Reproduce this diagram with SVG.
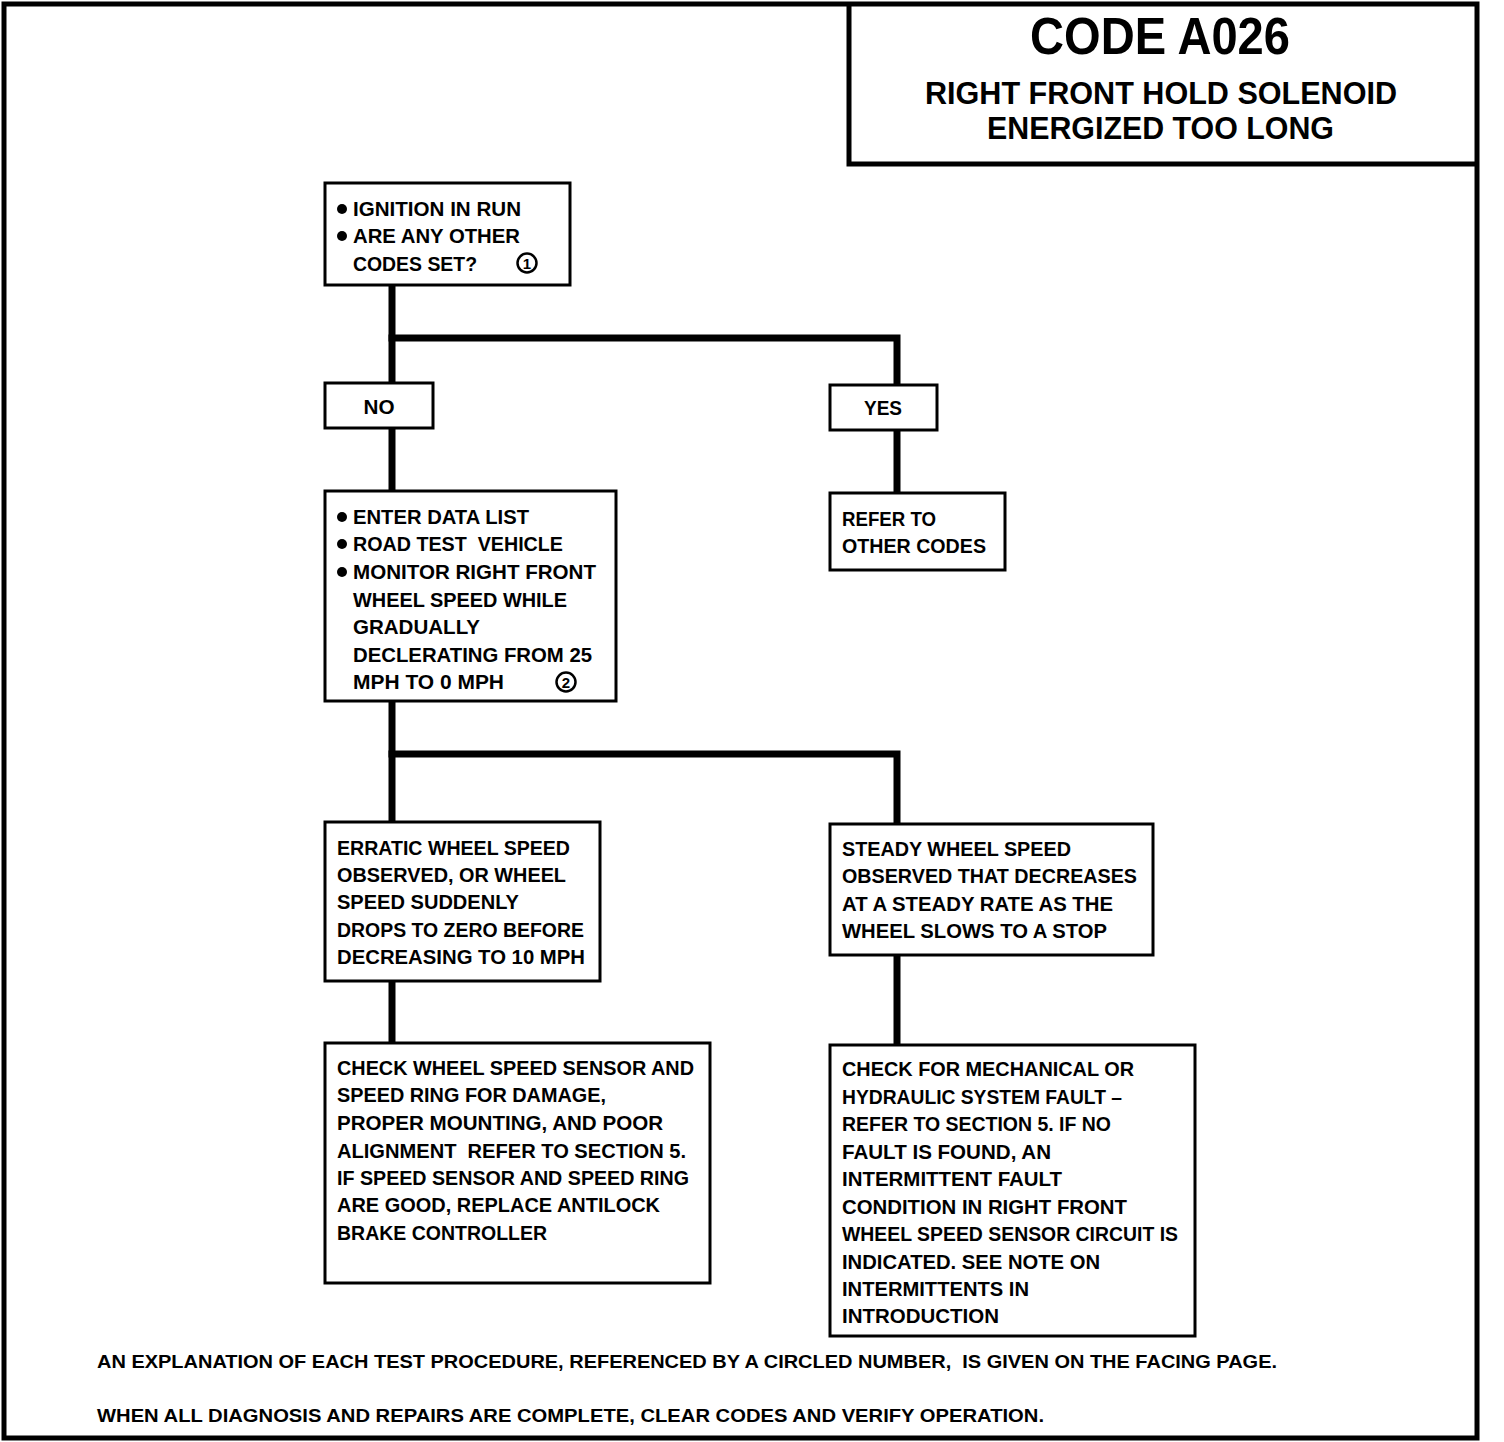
<svg xmlns="http://www.w3.org/2000/svg" width="1504" height="1442" viewBox="0 0 1504 1442">
<style>
.t{font-family:"Liberation Sans",Arial,sans-serif;font-weight:bold;font-size:20px;fill:#000;white-space:pre}
.b{fill:#fff;stroke:#000;stroke-width:3}
.c{fill:none;stroke:#000;stroke-width:7;stroke-linecap:square}
.h{font-family:"Liberation Sans",Arial,sans-serif;font-weight:bold;fill:#000;white-space:pre}
.dot{fill:#000}
.cn{fill:none;stroke:#000;stroke-width:2.5}
.n{font-family:"Liberation Sans",Arial,sans-serif;font-weight:bold;font-size:15px;fill:#000;text-anchor:middle}
</style>
<rect width="1504" height="1442" fill="#fff"/>
<rect x="4" y="4" width="1473" height="1434" fill="none" stroke="#000" stroke-width="5"/>
<g id="title">
<polyline points="849,4 849,164 1477,164" fill="none" stroke="#000" stroke-width="5"/>
<text class="h" x="1030" y="54" font-size="52" textLength="260" lengthAdjust="spacingAndGlyphs">CODE A026</text>
<text class="h" x="925" y="104" font-size="31" textLength="472" lengthAdjust="spacingAndGlyphs">RIGHT FRONT HOLD SOLENOID</text>
<text class="h" x="987" y="139" font-size="31" textLength="347" lengthAdjust="spacingAndGlyphs">ENERGIZED TOO LONG</text>
</g>
<g id="connectors">
<polyline class="c" points="392,287 392,381"/>
<polyline class="c" points="392,338 897,338 897,383"/>
<polyline class="c" points="392,430 392,489"/>
<polyline class="c" points="897,432 897,491"/>
<polyline class="c" points="392,703 392,820"/>
<polyline class="c" points="392,754 897,754 897,822"/>
<polyline class="c" points="392,983 392,1041"/>
<polyline class="c" points="897,957 897,1043"/>
</g>
<g id="n1">
<rect class="b" x="325" y="183" width="245" height="102"/>
<circle class="dot" cx="342" cy="209" r="5"/>
<text class="t" x="353" y="216" textLength="168" lengthAdjust="spacingAndGlyphs">IGNITION IN RUN</text>
<circle class="dot" cx="342" cy="236" r="5"/>
<text class="t" x="353" y="243" textLength="167" lengthAdjust="spacingAndGlyphs">ARE ANY OTHER</text>
<text class="t" x="353" y="271" textLength="124" lengthAdjust="spacingAndGlyphs">CODES SET?</text>
<circle class="cn" cx="527" cy="263" r="9.5"/>
<text class="n" x="527" y="268.5">1</text>
</g>
<g id="no">
<rect class="b" x="325" y="383" width="108" height="45"/>
<text class="t" x="379" y="414" text-anchor="middle" textLength="31" lengthAdjust="spacingAndGlyphs">NO</text>
</g>
<g id="yes">
<rect class="b" x="830" y="385" width="107" height="45"/>
<text class="t" x="883" y="415" text-anchor="middle" textLength="38" lengthAdjust="spacingAndGlyphs">YES</text>
</g>
<g id="n2">
<rect class="b" x="325" y="491" width="291" height="210"/>
<circle class="dot" cx="342" cy="517" r="5"/>
<text class="t" x="353" y="524" textLength="176" lengthAdjust="spacingAndGlyphs">ENTER DATA LIST</text>
<circle class="dot" cx="342" cy="544" r="5"/>
<text class="t" x="353" y="551" textLength="210" lengthAdjust="spacingAndGlyphs">ROAD TEST  VEHICLE</text>
<circle class="dot" cx="342" cy="572" r="5"/>
<text class="t" x="353" y="579" textLength="243" lengthAdjust="spacingAndGlyphs">MONITOR RIGHT FRONT</text>
<text class="t" x="353" y="607" textLength="214" lengthAdjust="spacingAndGlyphs">WHEEL SPEED WHILE</text>
<text class="t" x="353" y="634" textLength="127" lengthAdjust="spacingAndGlyphs">GRADUALLY</text>
<text class="t" x="353" y="662" textLength="239" lengthAdjust="spacingAndGlyphs">DECLERATING FROM 25</text>
<text class="t" x="353" y="689" textLength="151" lengthAdjust="spacingAndGlyphs">MPH TO 0 MPH</text>
<circle class="cn" cx="566" cy="682" r="9.5"/>
<text class="n" x="566" y="687.5">2</text>
</g>
<g id="refer">
<rect class="b" x="830" y="493" width="175" height="77"/>
<text class="t" x="842" y="526" textLength="94" lengthAdjust="spacingAndGlyphs">REFER TO</text>
<text class="t" x="842" y="553" textLength="144" lengthAdjust="spacingAndGlyphs">OTHER CODES</text>
</g>
<g id="erratic">
<rect class="b" x="325" y="822" width="275" height="159"/>
<text class="t" x="337" y="855" textLength="233" lengthAdjust="spacingAndGlyphs">ERRATIC WHEEL SPEED</text>
<text class="t" x="337" y="882" textLength="229" lengthAdjust="spacingAndGlyphs">OBSERVED, OR WHEEL</text>
<text class="t" x="337" y="909" textLength="182" lengthAdjust="spacingAndGlyphs">SPEED SUDDENLY</text>
<text class="t" x="337" y="937" textLength="247" lengthAdjust="spacingAndGlyphs">DROPS TO ZERO BEFORE</text>
<text class="t" x="337" y="964" textLength="248" lengthAdjust="spacingAndGlyphs">DECREASING TO 10 MPH</text>
</g>
<g id="steady">
<rect class="b" x="830" y="824" width="323" height="131"/>
<text class="t" x="842" y="856" textLength="229" lengthAdjust="spacingAndGlyphs">STEADY WHEEL SPEED</text>
<text class="t" x="842" y="883" textLength="295" lengthAdjust="spacingAndGlyphs">OBSERVED THAT DECREASES</text>
<text class="t" x="842" y="911" textLength="271" lengthAdjust="spacingAndGlyphs">AT A STEADY RATE AS THE</text>
<text class="t" x="842" y="938" textLength="265" lengthAdjust="spacingAndGlyphs">WHEEL SLOWS TO A STOP</text>
</g>
<g id="checkSensor">
<rect class="b" x="325" y="1043" width="385" height="240"/>
<text class="t" x="337" y="1075" textLength="357" lengthAdjust="spacingAndGlyphs">CHECK WHEEL SPEED SENSOR AND</text>
<text class="t" x="337" y="1102" textLength="269" lengthAdjust="spacingAndGlyphs">SPEED RING FOR DAMAGE,</text>
<text class="t" x="337" y="1130" textLength="326" lengthAdjust="spacingAndGlyphs">PROPER MOUNTING, AND POOR</text>
<text class="t" x="337" y="1158" textLength="349" lengthAdjust="spacingAndGlyphs">ALIGNMENT  REFER TO SECTION 5.</text>
<text class="t" x="337" y="1185" textLength="352" lengthAdjust="spacingAndGlyphs">IF SPEED SENSOR AND SPEED RING</text>
<text class="t" x="337" y="1212" textLength="323" lengthAdjust="spacingAndGlyphs">ARE GOOD, REPLACE ANTILOCK</text>
<text class="t" x="337" y="1240" textLength="210" lengthAdjust="spacingAndGlyphs">BRAKE CONTROLLER</text>
</g>
<g id="checkMech">
<rect class="b" x="830" y="1045" width="365" height="291"/>
<text class="t" x="842" y="1076" textLength="292" lengthAdjust="spacingAndGlyphs">CHECK FOR MECHANICAL OR</text>
<text class="t" x="842" y="1104" textLength="280" lengthAdjust="spacingAndGlyphs">HYDRAULIC SYSTEM FAULT –</text>
<text class="t" x="842" y="1131" textLength="269" lengthAdjust="spacingAndGlyphs">REFER TO SECTION 5. IF NO</text>
<text class="t" x="842" y="1159" textLength="209" lengthAdjust="spacingAndGlyphs">FAULT IS FOUND, AN</text>
<text class="t" x="842" y="1186" textLength="220" lengthAdjust="spacingAndGlyphs">INTERMITTENT FAULT</text>
<text class="t" x="842" y="1214" textLength="285" lengthAdjust="spacingAndGlyphs">CONDITION IN RIGHT FRONT</text>
<text class="t" x="842" y="1241" textLength="336" lengthAdjust="spacingAndGlyphs">WHEEL SPEED SENSOR CIRCUIT IS</text>
<text class="t" x="842" y="1269" textLength="258" lengthAdjust="spacingAndGlyphs">INDICATED. SEE NOTE ON</text>
<text class="t" x="842" y="1296" textLength="187" lengthAdjust="spacingAndGlyphs">INTERMITTENTS IN</text>
<text class="t" x="842" y="1323" textLength="157" lengthAdjust="spacingAndGlyphs">INTRODUCTION</text>
</g>
<g id="notes">
<text class="h" font-size="18" x="97" y="1368" textLength="1180" lengthAdjust="spacingAndGlyphs">AN EXPLANATION OF EACH TEST PROCEDURE, REFERENCED BY A CIRCLED NUMBER,  IS GIVEN ON THE FACING PAGE.</text>
<text class="h" font-size="18" x="97" y="1422" textLength="947" lengthAdjust="spacingAndGlyphs">WHEN ALL DIAGNOSIS AND REPAIRS ARE COMPLETE, CLEAR CODES AND VERIFY OPERATION.</text>
</g>
</svg>
